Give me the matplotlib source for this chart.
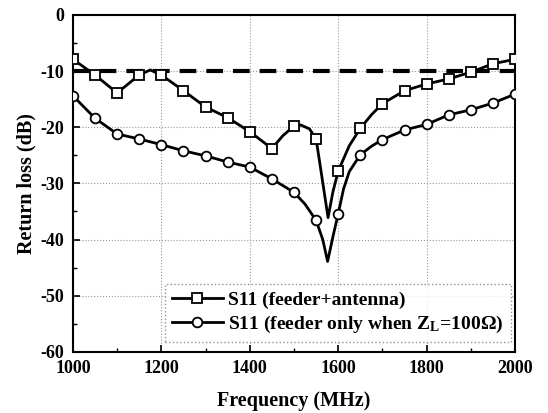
import numpy as np
import matplotlib.pyplot as plt
from matplotlib.ticker import MultipleLocator

plt.rcParams['font.family'] = ['Liberation Serif', 'DejaVu Serif']
plt.rcParams['font.weight'] = 'bold'
plt.rcParams['axes.unicode_minus'] = False
plt.rcParams['mathtext.fontset'] = 'stix'

# S11 (feeder+antenna) - squares at every 50 MHz, extra points
f_ant = [1000, 1050, 1100, 1150, 1175, 1200, 1250, 1300, 1350, 1400, 1450, 1475, 1500, 1515,
         1535, 1550, 1563, 1577, 1588, 1600, 1625, 1650, 1675, 1700, 1750, 1800, 1850, 1900, 1950, 2000]
s11_ant = [-7.9, -10.7, -13.9, -10.7, -9.8, -10.7, -13.5, -16.4, -18.3, -20.8, -23.8, -21.5, -19.8, -19.6,
           -20.3, -22.1, -28.8, -36.1, -31.5, -27.8, -23.3, -20.2, -17.8, -15.8, -13.5, -12.3, -11.4, -10.2, -8.7, -7.9]
mk_ant = [0, 1, 2, 3, 5, 6, 7, 8, 9, 10, 12, 15, 19, 21, 23, 24, 25, 26, 27, 28, 29]

# S11 (feeder only, ZL = 100 ohm) - circles
f_feed = [1000, 1050, 1100, 1150, 1200, 1250, 1300, 1350, 1400, 1450, 1500, 1525, 1550, 1565, 1576,
          1588, 1600, 1612, 1625, 1650, 1675, 1700, 1750, 1800, 1850, 1900, 1950, 2000]
s11_feed = [-14.4, -18.4, -21.2, -22.1, -23.1, -24.2, -25.1, -26.2, -27.1, -29.2, -31.6, -33.7, -36.6, -40.0, -43.9,
            -39.5, -35.4, -31.0, -27.9, -24.9, -23.4, -22.2, -20.5, -19.5, -17.8, -16.9, -15.7, -14.1]
mk_feed = [0, 1, 2, 3, 4, 5, 6, 7, 8, 9, 10, 12, 16, 19, 21, 22, 23, 24, 25, 26, 27]

limit_f = [1000, 2000]
limit_db = [-10, -10]

fig = plt.figure(figsize=(5.48, 4.13), dpi=100)
ax = fig.add_axes([0.133, 0.148, 0.807, 0.816])

ax.plot(limit_f, limit_db, color='black', lw=3, dashes=(4, 2.4), zorder=2)
ax.plot(f_ant, s11_ant, color='black', lw=2, marker='s', markevery=mk_ant,
        ms=6.5, mfc='white', mec='black', mew=1.3, label='S11 (feeder+antenna)', zorder=3)
ax.plot(f_feed, s11_feed, color='black', lw=2, marker='o', markevery=mk_feed,
        ms=7, mfc='white', mec='black', mew=1.3,
        label='S11 (feeder only when Z$_\\mathregular{L}$=100\u03a9)', zorder=3)

ax.set_xlim(1000, 2000)
ax.set_ylim(-60, 0)
ax.xaxis.set_major_locator(MultipleLocator(200))
ax.xaxis.set_minor_locator(MultipleLocator(100))
ax.yaxis.set_major_locator(MultipleLocator(10))
ax.yaxis.set_minor_locator(MultipleLocator(5))
ax.tick_params(which='both', direction='in', labelsize=13, pad=6)
ax.tick_params(which='major', length=5, width=1.2)
ax.tick_params(which='minor', length=3, width=1)
ax.grid(True, which='major', color='#999999', ls=':', lw=0.8)
for sp in ax.spines.values():
    sp.set_linewidth(1.5)

ax.set_xlabel('Frequency (MHz)', fontsize=14.5, fontweight='bold', labelpad=10)
ax.set_ylabel('Return loss (dB)', fontsize=14.5, fontweight='bold', labelpad=3)

leg = ax.legend(loc='lower right', bbox_to_anchor=(0.99, 0.03), fontsize=14,
                fancybox=False, handlelength=2.6, borderpad=0.35, labelspacing=0.25,
                handletextpad=0.3, borderaxespad=0)
leg.get_frame().set_edgecolor('#777777')
leg.get_frame().set_linestyle(':')
leg.get_frame().set_linewidth(1)

fig.savefig('out.png', dpi=100)
